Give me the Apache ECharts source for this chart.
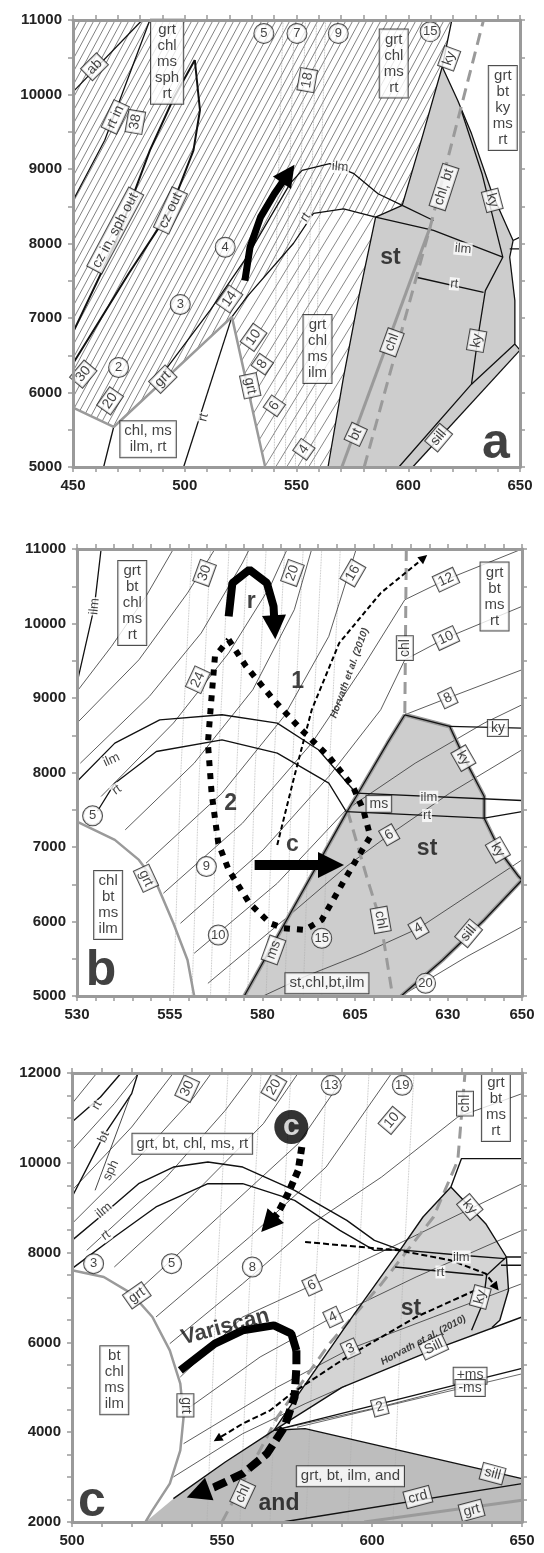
<!DOCTYPE html>
<html>
<head>
<meta charset="utf-8">
<script src="https://cdn.jsdelivr.net/npm/echarts@6/dist/echarts.min.js"></script>
<style>
  html, body { margin: 0; background: #fff; }
  #chart { width: 544px; height: 1553px; }
</style>
</head>
<body>
<div id="chart"></div>
<script>
// ---------- panel a : T (°C) vs P (bar) ----------
const aDenseHatch = [[450,5798],[468.2,5537],[521.1,7015],[527.8,7283],[548.6,8000],[557.6,8404],[571.1,8466],[585.4,8354],[597.3,8511],[606.7,9475],[615.2,10372],[619.5,11000],[450,11000]]
const aSparseHatch = [[521.1,7015],[536,5000],[564.1,5000],[571,6200],[578,7300],[585.4,8354],[571.1,8466],[557.6,8404],[548.6,8000],[527.8,7283]]
const aStField = [[564.1,5000],[571,6200],[578,7300],[585.4,8354],[597.3,8511],[606.7,9475],[615.2,10372],[622.1,9924],[628.3,9475],[637.6,8668],[646.9,8040],[645.4,7816],[647.7,7233],[647.7,6650],[650,6569],[602,5000]]
const aAb = [[450,10035],[481,11000]]
const aRtIn = [[450,8578],[464.2,9385],[484.4,11000]]
const aCzIn = [[450,6807],[468.9,8000],[484.4,9251],[495,9950],[504.5,10462]]
const aCzOut = [[450,6390],[475,7600],[493.5,8445],[503.9,9251],[506.8,9789],[504.5,10462]]
const aChlMsEdge = [[463.7,5000],[468.2,5537]]
const aRtLow = [[499.5,5000],[521.1,7015]]
const aRt = [[521.1,7015],[527.8,7283],[548.6,8000],[557.6,8404],[571.1,8466],[585.4,8354]]
const aIlm = [[489,6209],[511.4,7105],[527.8,7821],[547.2,8807],[552.5,8982],[564.9,9072],[575.7,8937],[586.5,8668],[597.3,8511]]
const aStLeftLow = [[564.1,5000],[571,6200],[578,7300],[585.4,8354],[597.3,8511]]
const aStLeftUp = [[597.3,8511],[606.7,9475],[615.2,10372],[619.5,11000]]
const aKyOuter = [[615.2,10372],[622.1,9924],[628.3,9475],[637.6,8668],[646.9,8040],[650,8085]]
const aKyInner = [[623.7,9789],[633,8937],[642.3,7816],[634.5,7368],[631.4,6785],[628.3,6112]]
const aEastEdge = [[646.9,8040],[645.4,7816],[647.7,7233],[647.7,6650],[650,6569]]
const aStub = [[645.4,7928],[650,7928]]
const aSillUp = [[595.8,5000],[628.3,6112],[647.7,6650]]
const aSillLow = [[602,5000],[650,6569]]
const aIlmSt = [[585.4,8354],[611.3,8175],[642.3,7816]]
const aIlmSt2 = [[597.3,8511],[611.3,8309]]
const aRtSt = [[603.6,7547],[633.7,7345]]
const aGrt = [[450,5798],[468.2,5537],[521.1,7015],[536,5000]]
const aBt = [[570.3,5000],[609.8,8220]]
const aChl = [[580.3,5000],[609.8,8220],[633.7,11000]]
const aIsoT = [
  [[540,5000],[541,8000],[544,11000]],
  [[545,5000],[546,8000],[549,11000]],
  [[549.5,5000],[551,8000],[554,11000]],
  [[554,5000],[556,8000],[559,11000]],
  [[558,5000],[560,8000],[563,11000]]
]
const aPath = [[526.9,7502],[529.2,7950],[533.9,8354],[540.1,8668],[546.3,8937]]
const aBoxTags = [['ab',459.6,10372,45],['rt in',468.9,9699,65],['38',477.9,9632,80],['cz in, sph out',468.9,8175,62],['cz out',493.6,8444,65],['18',554.8,10193,80],['ky',618.3,10484,70],['chl, bt',616,8758,72],['ky',637.6,8579,-75],['14',520,7255,55],['10',530.8,6740,55],['8',534.7,6381,55],['6',540.1,5821,55],['4',553.3,5238,55],['30',454.6,6247,50],['20',466.6,5888,55],['grt',490.2,6179,45],['grt',529.3,6090,-78],['bt',576.5,5439,65],['chl',592.7,6673,70],['ky',630.6,6695,80],['sill',613.6,5395,50]]
const aStackTags = [['grt\nchl\nms\nsph\nrt',492.1,10439],['grt\nchl\nms\nrt',593.5,10417],['grt\nbt\nky\nms\nrt',642.3,9820],['grt\nchl\nms\nilm',559.4,6583],['chl, ms\nilm, rt',483.6,5372]]
const aCircleTags = [['5',535.4,10820],['7',550.2,10820],['9',568.7,10820],['15',609.8,10843],['4',518.1,7950],['3',498,7180],['2',470.4,6336]]
const aPlainTags = [['ilm',569.5,9027,-5],['rt',554,8354,55],['rt',508.4,5664,75],['ilm',624.5,7928,-5],['rt',620.6,7457,-5]]
const aBoldTags = [['st',592,7816]]
const aBigTags = [['a',639.2,5300]]

// ---------- panel b ----------
const bStField = [[575.1,5000],[602.6,7454],[605.3,7678],[613.7,8394],[618.4,8775],[630.5,8618],[635.1,8126],[639.8,7678],[639.8,7387],[644.4,6916],[649.1,6603],[650,6558],[639.8,6021],[628.6,5484],[617.4,5000]]
const bGrtArc = [[530,7342],[540.2,7096],[546.7,6827],[551.4,6513],[556,5976],[559.8,5484],[561.6,5000]]
const bIlmArc = [[530,7879],[540.2,8394],[552.3,8707],[569.1,8775],[584,8663],[595.1,8305],[605.3,7722]]
const bIlmEast = [[605.3,7722],[650,7624]]
const bRtArc = [[535.5,7480],[540.2,7857],[551.4,8282],[569.1,8439],[584,8260],[597.9,7857],[602.6,7476]]
const bRtEast = [[602.6,7476],[639.8,7387],[650,7476]]
const bMsEdge = [[575.1,5000],[602.6,7454],[605.3,7678],[613.7,8394],[618.4,8775]]
const bKyEdge = [[618.4,8775],[630.5,8618],[635.1,8126],[639.8,7678],[639.8,7387],[644.4,6916],[649.1,6603],[650,6558]]
const bSillEdge = [[617.4,5000],[628.6,5484],[639.8,6021],[650,6558]]
const bKyStub = [[630.5,8618],[650,8596]]
const bChlUp = [[618.8,11000],[618.4,8775]]
const bChlDown = [[603,7480],[608.1,6603],[611.9,5998],[615.1,5000]]
const bIlmNW = [[530,9200],[534.7,10230],[536.5,11000]]
const bThin = [
  [[530,9088],[539.3,9693],[548.6,10364],[556,11000]],
  [[530,8663],[546.7,9513],[559.8,10409],[567.2,11000]],
  [[530.9,8125],[549.5,9021],[563.5,9872],[574.6,10812],[576.5,11000]],
  [[536.5,7678],[556,8663],[570.9,9603],[582.1,10498],[586.7,11000]],
  [[543,7230],[561.6,8125],[577.4,9110],[588.6,10185],[593.3,11000]],
  [[548.6,6782],[569.1,7722],[585.8,8752],[597.9,9827],[605.3,11000]],
  [[553.3,6379],[574.6,7319],[593.3,8394],[607.2,9424],[618.4,10319],[629.5,10588],[650,11000]],
  [[557.9,5976],[580.2,6961],[597.9,7946],[611.9,8842],[618.4,9513],[629.5,9805],[650,10230]],
  [[561.6,5573],[584,6513],[602.6,7499],[621.2,8125],[639.8,8663],[650,8909]],
  [[565.3,5170],[585.8,6021],[602.6,6737],[614.2,7163],[630.5,7722],[650,8305]],
  [[580.2,5000],[591.4,5260],[607.2,5573],[622.1,5909],[650,6827]],
  [[617.4,5000],[635.1,5528],[650,5931]],
  [[618.4,8775],[630,9000],[650,9379]]
]
const bIsoT = [
  [[556,5000],[558,8000],[561,11000]],
  [[561,5000],[563,8000],[566,11000]],
  [[566,5000],[568,8000],[571,11000]],
  [[571,5000],[573,8000],[576,11000]],
  [[576,5000],[578,8000],[581,11000]],
  [[581,5000],[583,8000],[586,11000]],
  [[586,5000],[588,8000],[591,11000]],
  [[591,5000],[593,8000],[596,11000]],
  [[596,5000],[598,8000],[601,11000]]
]
const bLoop = [[570.9,9782],[575.6,9424],[583,8976],[590.5,8573],[597.9,8215],[604.4,7812],[607.2,7499],[609.1,7140],[605.3,6827],[601.6,6513],[596,6021],[591.4,5887],[585.8,5909],[582.1,5976],[576.5,6245],[570.9,6693],[568.1,7051],[566.3,7722],[565.3,8394],[566.3,9021],[567.2,9558],[570.9,9782]]
const bPathR = [[570.9,10095],[571.9,10543],[576.5,10722],[581.2,10543],[583,10230],[583.3,9950]]
const bPathC = [[577.9,6760],[598.5,6760]]
const bHorvath = [[584,7028],[588.6,7946],[593.3,8842],[600.7,9737],[611.9,10409],[623.5,10880]]
const bBoxTags = [['30',564.4,10678,70],['20',588.1,10678,70],['16',604.4,10678,60],['24',562.6,9245,65],['12',629.5,10588,25],['10',629.5,9805,25],['8',630,9000,25],['6',614.2,7163,30],['4',622.1,5909,30],['grt',548.6,6580,-65],['chl',618.4,9670,90],['chl',611.9,6021,-80],['ms',583,5618,70],['ky',634.2,8193,-60],['ky',643.5,6961,-60],['sill',635.6,5842,50],['ms',611.4,7579,0],['ky',643.5,8596,0]]
const bStackTags = [['grt\nbt\nchl\nms\nrt',544.9,10275],['grt\nbt\nms\nrt',642.6,10364],['chl\nbt\nms\nilm',538.4,6222],['st,chl,bt,ilm',597.4,5170]]
const bCircleTags = [['5',534.2,7418],['9',564.9,6737],['10',568.1,5819],['15',596,5775],['20',624,5170]]
const bPlainTags = [['ilm',534.7,10230,85],['ilm',539.3,8170,25],['rt',540.7,7767,35],['ilm',624.9,7669,0],['rt',624.4,7422,0]]
const bBoldTags = [['st',624.4,6984],['1',589.5,9216],['2',571.4,7588],['c',588.1,7028],['r',577,10297]]
const bBigTags = [['b',536.5,5330]]
const bSmallTags = [['Horvath et al. (2010)',603.5,9334,70]]

// ---------- panel c ----------
const cStField = [[567.3,4042],[576,4900],[592.7,6500],[609.4,8060],[617,8793],[626.3,9461],[637.9,8644],[644.8,7902],[645.5,7160],[642.6,6492],[640,6330],[620,5824],[590,5000]]
const cAndField = [[524.5,2000],[533.8,2520],[551.1,3336],[567.3,4042],[577.7,4079],[650,2965],[650,2000]]
const cGrtArc = [[500,7605],[510.6,7457],[519.9,7085],[526.8,6566],[532.6,5823],[536.1,5081],[537.2,4339],[536.1,3596],[532.6,2854],[526.8,2260],[524.5,2000]]
const cIlmArc = [[500,8273],[510.6,8867],[522.2,9535],[533.8,9906],[545.3,10018],[556.9,9906],[574.2,9387],[591.6,8719],[600.8,8273],[609.4,8060]]
const cRtArc = [[500,7642],[514.1,8347],[528,9016],[545.3,9535],[556.9,9535],[574.2,9164],[589.3,8496],[600.8,8050],[609.4,8060]]
const cIlmSt = [[609.4,8060],[629.8,7940],[644.3,7866]]
const cRtSt = [[607.7,7680],[637.1,7494]]
const cStEdge = [[533.8,2520],[551.1,3336],[567.3,4042],[576,4900],[592.7,6500],[609.4,8060],[617,8793],[626.3,9461],[629.8,10092],[650,10092]]
const cKyEdge = [[626.3,9461],[637.9,8644],[644.8,7902],[650,7902]]
const cKyStub = [[643,7717],[650,7717]]
const cKyInner = [[644.8,7902],[638.2,7494],[637.1,6900],[633.2,6269]]
const cStEast = [[644.8,7902],[645.5,7160],[642.6,6492],[640,6330]]
const cSill = [[567.3,4042],[590,5000],[620,5824],[650,6566]]
const cMsPlus = [[567.3,4042],[650,5420]]
const cMsMinus = [[575,4110],[650,5300]]
const cAndTop = [[567.3,4042],[577.7,4079],[650,2965]]
const cCrd = [[570.2,2000],[650,2854]]
const cGrtLow = [[597.4,2000],[650,2483]]
const cChl = [[550,2000],[568.5,4339],[585.8,5972],[603.2,7308],[620.5,8793],[628.6,10055],[631,12000]]
const cRtNW = [[500,10909],[509.5,11465],[516.4,12000]]
const cBtNW = [[500,9239],[510.6,10612],[519.9,11540],[522,12000]]
const cSphNW = [[507.7,9387],[519.3,11465]]
const cThin = [
  [[500,11317],[508.3,12000]],
  [[500,10278],[514.1,11317],[522.2,12000]],
  [[500,9387],[519.9,10797],[533.8,12000]],
  [[500,8644],[524.5,10278],[540.7,11465],[546.5,12000]],
  [[504.9,8050],[531.5,9684],[551.1,11168],[560.4,12000]],
  [[514.1,7679],[540.7,9313],[563.8,10872],[575.4,12000]],
  [[522.2,7160],[550,8867],[575.4,10426],[591.6,12000]],
  [[528,6566],[559.2,8347],[584.7,9906],[606.6,12000]],
  [[532.6,5972],[556.9,7308],[580,8644],[603.2,9684],[628.6,11020],[650,11540]],
  [[536.1,5229],[556.9,6566],[580,7271],[608.9,8199],[650,9535]],
  [[537.8,4487],[562.7,5675],[587,6566],[614.7,7457],[650,8496]],
  [[537.2,3745],[568.5,5007],[592.8,5860],[620.5,6566],[650,7308]],
  [[533.8,3002],[556.9,3967],[577.7,4635],[591.6,5044]],
  [[567.3,4042],[602.6,4561],[628.6,5007]]
]
const cIsoT = [
  [[545,2000],[548,7000],[552,12000]],
  [[556,2000],[559,7000],[563,12000]],
  [[566,2000],[569,7000],[573,12000]],
  [[578,2000],[581,7000],[585,12000]],
  [[592,2000],[595,7000],[599,12000]],
  [[607,2000],[610,7000],[614,12000]]
]
const cVariscan = [[536.1,5378],[547.6,5972],[556.9,6269],[567.3,6380],[573.1,6194],[574.8,5823]]
const cVariscanDash = [[574.8,5823],[574.8,5452],[574.2,4784],[570.8,4116],[565,3522],[556.9,3076],[547.6,2780],[542,2640]]
const cPathC = [[576.6,10352],[575.4,9832],[572,9313],[568.5,8867],[565.5,8640]]
const cDashEast = [[577.7,8236],[608.9,8050],[626.3,7828],[637.9,7531],[641.3,7234]]
const cHorvath = [[634.4,7160],[614.7,6566],[591.6,5675],[573.1,4858],[566.1,4487],[556.9,4190],[548.5,3850]]
const cCircleC = [[573.1,10797]]
const cBoxTags = [['30',538.4,11651,65],['20',567.3,11688,60],['10',606.6,10946,50],['6',580,7271,25],['4',587,6566,25],['3',592.8,5860,25],['2',602.6,4561,15],['grt',521.6,7048,35],['grt',537.8,4598,-90],['ky',632.6,9016,-50],['ky',636.1,7011,75],['Sill',620.5,5898,25],['sill',640.2,3076,-15],['crd',615.3,2557,15],['grt',633.2,2260,15],['chl',631,11317,90],['chl',556.9,2631,65],['+ms',632.7,5260,0],['-ms',632.7,4985,0]]
const cStackTags = [['grt, bt, chl, ms, rt',540.1,10426],['grt\nbt\nms\nrt',641.3,11243],['bt\nchl\nms\nilm',514.1,5155],['grt, bt, ilm, and',592.8,3017]]
const cCircleTags = [['13',586.4,11725],['19',610.1,11725],['3',507.2,7754],['5',533.2,7754],['8',560.1,7679]]
const cPlainTags = [['rt',508.3,11280,60],['bt',510.6,10575,65],['sph',513,9832,65],['ilm',510.6,8941,40],['rt',511.2,8385,35],['ilm',629.8,7902,0],['rt',622.8,7568,0]]
const cBoldTags = [['st',613,6751],['and',569,2408]]
const cVariscanTag = [['Variscan',551.1,6343,15]]
const cBigTags = [['c',506.6,2450]]
const cSmallTags = [['Horvath et al. (2010)',617.1,6047,28]]

const FONT = "'Liberation Sans', Arial, sans-serif"
const GRAY = '#9a9a9a'

function hatch(w, h, color, lw) {
  const c = document.createElement('canvas')
  c.width = w
  c.height = h
  const g = c.getContext('2d')
  g.strokeStyle = color
  g.lineWidth = lw
  for (let k = -1; k <= 1; k++) {
    g.beginPath()
    g.moveTo(k * w, h)
    g.lineTo(k * w + w, 0)
    g.stroke()
  }
  return { image: c, repeat: 'repeat' }
}

function poly(i, pts, fill, z) {
  return {
    type: 'custom', xAxisIndex: i, yAxisIndex: i, silent: true, z: z || 1,
    data: [pts[0]],
    encode: { x: 0, y: 1 },
    renderItem: (p, api) => ({
      type: 'polygon',
      shape: { points: pts.map(q => api.coord(q)) },
      style: { fill: fill, stroke: null }
    })
  }
}

function L(i, pts, o) {
  o = o || {}
  return {
    type: 'line', xAxisIndex: i, yAxisIndex: i, data: pts, symbol: 'none', silent: true,
    z: o.z || 3, clip: true,
    lineStyle: { color: o.c || '#111', width: o.w || 1.2, type: o.t || 'solid', cap: 'butt' }
  }
}

// path drawn as a line series, head as a tiny 'lines' segment along the last leg
function arrow(i, pts, w, t, size, c) {
  const a = pts[pts.length - 2]
  const b = pts[pts.length - 1]
  const tail = [b[0] - (b[0] - a[0]) * 0.02, b[1] - (b[1] - a[1]) * 0.02]
  return [
    L(i, pts, { c: c || '#000', w: w, t: t, z: 6 }),
    {
      type: 'lines', coordinateSystem: 'cartesian2d', xAxisIndex: i, yAxisIndex: i, silent: true, z: 7,
      symbol: ['none', 'triangle'], symbolSize: size,
      lineStyle: { color: c || '#000', width: 1, opacity: 1 },
      data: [{ coords: [tail, b] }]
    }
  ]
}

const STYLE = {
  box: { backgroundColor: '#fff', borderColor: '#222', borderWidth: 1, padding: [1, 3, 0, 3], fontSize: 14, lineHeight: 15 },
  stack: { backgroundColor: '#fff', borderColor: '#222', borderWidth: 1, padding: [2, 4], fontSize: 15, lineHeight: 16, align: 'center' },
  circle: { backgroundColor: '#fff', borderColor: '#222', borderWidth: 1, borderRadius: 10, width: 19, height: 19, lineHeight: 19, padding: 0, align: 'center', fontSize: 13 },
  plain: { backgroundColor: '#fff', padding: [0, 1], fontSize: 13, lineHeight: 13 },
  bold: { fontSize: 23, fontWeight: 'bold' },
  variscan: { fontSize: 22, fontWeight: 'bold' },
  big: { fontSize: 50, fontWeight: 'bold' },
  small: { fontSize: 10, fontWeight: 'bold', fontStyle: 'italic' }
}

function tags(i, items, kind) {
  return {
    type: 'scatter', xAxisIndex: i, yAxisIndex: i, silent: true, z: 10,
    symbolSize: 1, itemStyle: { color: 'rgba(0,0,0,0)' },
    label: Object.assign({ show: true, position: 'inside', color: '#111', fontFamily: FONT }, STYLE[kind]),
    data: items.map(d => ({ value: [d[1], d[2]], label: { formatter: d[0], rotate: d[3] || 0 } }))
  }
}

const series = []

// panel a
series.push(poly(0, aDenseHatch, hatch(7, 13, '#4a4a4a', 0.7)))
series.push(poly(0, aSparseHatch, hatch(11, 18, '#555', 0.7)))
series.push(poly(0, aStField, '#cdcdcd'))
aIsoT.forEach(p => series.push(L(0, p, { c: '#aaa', w: 0.8, t: 'dotted', z: 2 })))
;[aAb, aRtIn, aChlMsEdge, aRtLow, aRt, aIlm, aStLeftLow, aStLeftUp, aKyOuter, aKyInner, aEastEdge, aStub,
  aSillUp, aSillLow, aIlmSt, aIlmSt2, aRtSt].forEach(p => series.push(L(0, p, { w: 1.3 })))
;[aCzIn, aCzOut].forEach(p => series.push(L(0, p, { w: 2 })))
series.push(L(0, aGrt, { c: GRAY, w: 2.5 }))
series.push(L(0, aBt, { c: GRAY, w: 3 }))
series.push(L(0, aChl, { c: GRAY, w: 3, t: [12, 7] }))
series.push(...arrow(0, aPath, 7, 'solid', 22))
series.push(tags(0, aBoxTags, 'box'), tags(0, aStackTags, 'stack'), tags(0, aCircleTags, 'circle'),
  tags(0, aPlainTags, 'plain'), tags(0, aBoldTags, 'bold'), tags(0, aBigTags, 'big'))

// panel b
series.push(poly(1, bStField, '#cdcdcd'))
bIsoT.forEach(p => series.push(L(1, p, { c: '#b0b0b0', w: 0.8, t: 'dotted', z: 2 })))
bThin.forEach(p => series.push(L(1, p, { c: '#333', w: 0.8, z: 2 })))
;[bMsEdge, bKyEdge, bSillEdge].forEach(p => series.push(L(1, p, { c: GRAY, w: 4, z: 3 })))
;[bIlmArc, bIlmEast, bRtArc, bRtEast, bMsEdge, bKyEdge, bSillEdge, bKyStub, bIlmNW].forEach(p => series.push(L(1, p, { w: 1.3, z: 4 })))
series.push(L(1, bGrtArc, { c: GRAY, w: 2.5 }))
series.push(L(1, bChlUp, { c: GRAY, w: 3, t: [12, 7] }))
series.push(L(1, bChlDown, { c: GRAY, w: 3, t: [12, 7] }))
series.push(L(1, bLoop, { c: '#000', w: 6, t: [6, 7], z: 6 }))
series.push(...arrow(1, bPathR, 8, 'solid', 24))
series.push(...arrow(1, bPathC, 10, 'solid', 26))
series.push(...arrow(1, bHorvath, 2, [5, 3], 9))
series.push(tags(1, bBoxTags, 'box'), tags(1, bStackTags, 'stack'), tags(1, bCircleTags, 'circle'),
  tags(1, bPlainTags, 'plain'), tags(1, bBoldTags, 'bold'), tags(1, bBigTags, 'big'), tags(1, bSmallTags, 'small'))

// panel c
series.push(poly(2, cStField, '#d4d4d4'))
series.push(poly(2, cAndField, '#bdbdbd'))
cIsoT.forEach(p => series.push(L(2, p, { c: '#b0b0b0', w: 0.8, t: 'dotted', z: 2 })))
cThin.forEach(p => series.push(L(2, p, { c: '#333', w: 0.8, z: 2 })))
;[cIlmArc, cRtArc, cIlmSt, cRtSt, cStEdge, cKyEdge, cKyStub, cKyInner, cStEast, cSill, cMsPlus, cAndTop, cCrd,
  cRtNW, cBtNW].forEach(p => series.push(L(2, p, { w: 1.4, z: 4 })))
series.push(L(2, cMsMinus, { c: '#444', w: 0.8, z: 4 }))
series.push(L(2, cSphNW, { c: '#333', w: 0.9, z: 4 }))
series.push(L(2, cGrtArc, { c: GRAY, w: 2.5 }))
series.push(L(2, cGrtLow, { c: GRAY, w: 3 }))
series.push(L(2, cChl, { c: GRAY, w: 3, t: [12, 7] }))
series.push(L(2, cVariscan, { c: '#000', w: 8, z: 6 }))
series.push(...arrow(2, cVariscanDash, 8, [14, 6], 24))
series.push(...arrow(2, cPathC, 7, [7, 5], 22))
series.push(...arrow(2, cDashEast, 2, [6, 3], 9))
series.push(...arrow(2, cHorvath, 2, [6, 3], 9))
series.push({
  type: 'scatter', xAxisIndex: 2, yAxisIndex: 2, silent: true, z: 9, data: cCircleC,
  symbol: 'circle', symbolSize: 34, itemStyle: { color: '#000' },
  label: { show: true, position: 'inside', formatter: 'c', color: '#fff', fontSize: 30, fontWeight: 'bold', fontFamily: FONT }
})
series.push(tags(2, cBoxTags, 'box'), tags(2, cStackTags, 'stack'), tags(2, cCircleTags, 'circle'),
  tags(2, cPlainTags, 'plain'), tags(2, cBoldTags, 'bold'), tags(2, cVariscanTag, 'variscan'),
  tags(2, cBigTags, 'big'), tags(2, cSmallTags, 'small'))

// axes
const axisLine = { show: true, onZero: false, lineStyle: { color: GRAY, width: 3 } }
const tick = { show: true, length: 5, lineStyle: { color: GRAY, width: 1.5 } }
const minor = n => ({ show: n > 1, splitNumber: n, length: 5, lineStyle: { color: GRAY, width: 1.5 } })
const axisLabel = { fontFamily: FONT, fontWeight: 'bold', fontSize: 15, color: '#222', margin: 11, formatter: v => String(v) }
const bXLabels = [530, 555, 580, 605, 630, 650]

const panels = [
  { x: [450, 650, 50, 5], y: [5000, 11000, 1000, 2] },
  { x: [530, 650, 5, 1], y: [5000, 11000, 1000, 2], fmt: v => (bXLabels.includes(v) ? String(v) : '') },
  { x: [500, 650, 50, 5], y: [2000, 12000, 2000, 4] }
]
const xAxis = []
const yAxis = []
panels.forEach((p, i) => {
  xAxis[i] = {
    type: 'value', gridIndex: i, min: p.x[0], max: p.x[1], interval: p.x[2], position: 'bottom', z: 20,
    axisLine, axisTick: tick, minorTick: minor(p.x[3]), splitLine: { show: false },
    axisLabel: Object.assign({}, axisLabel, p.fmt ? { formatter: p.fmt } : {})
  }
  xAxis[i + 3] = {
    type: 'value', gridIndex: i, min: p.x[0], max: p.x[1], interval: p.x[2], position: 'top', z: 20,
    axisLine, axisTick: tick, minorTick: minor(p.x[3]), splitLine: { show: false }, axisLabel: { show: false }
  }
  yAxis[i] = {
    type: 'value', gridIndex: i, min: p.y[0], max: p.y[1], interval: p.y[2], position: 'left', z: 20,
    axisLine, axisTick: tick, minorTick: minor(p.y[3]), splitLine: { show: false }, axisLabel
  }
  yAxis[i + 3] = {
    type: 'value', gridIndex: i, min: p.y[0], max: p.y[1], interval: p.y[2], position: 'right', z: 20,
    axisLine, axisTick: tick, minorTick: minor(p.y[3]), splitLine: { show: false }, axisLabel: { show: false }
  }
})

const option = {
  animation: false,
  backgroundColor: '#fff',
  grid: [
    { left: 73, top: 20, width: 447, height: 447 },
    { left: 77, top: 549, width: 445, height: 447 },
    { left: 72, top: 1073, width: 450, height: 449 }
  ],
  xAxis,
  yAxis,
  series
}

const chart = echarts.init(document.getElementById('chart'))
chart.setOption(option)
</script>
</body>
</html>
